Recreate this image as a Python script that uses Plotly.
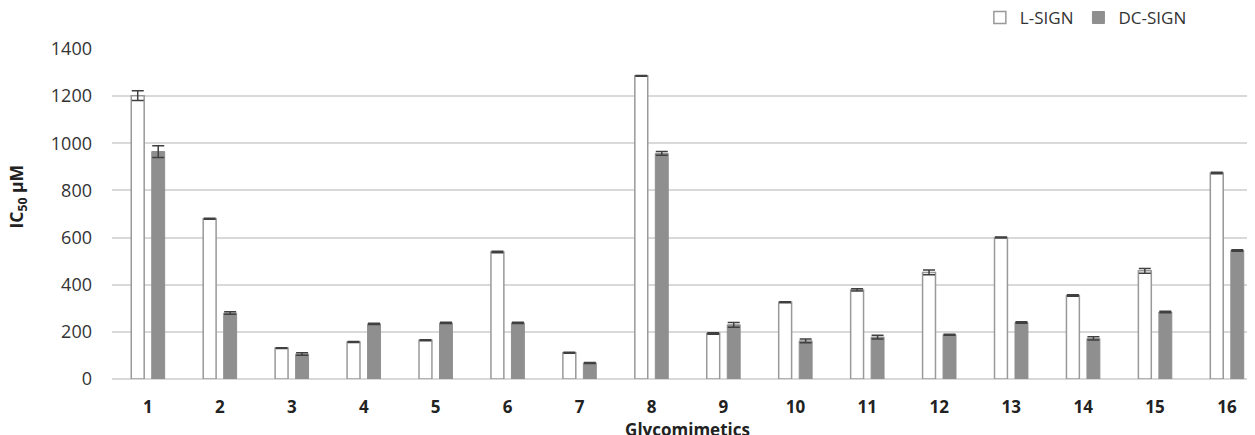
import plotly.graph_objects as go

categories = [str(i) for i in range(1, 17)]
l_sign = [1202, 680, 131, 157, 164, 539, 111, 1286, 193, 326, 378, 452, 600, 354, 459, 874]
l_sign_err = [21, 2, 2, 2, 2, 3, 2, 2, 3, 2, 5, 10, 2, 3, 10, 3]
dc_sign = [965, 280, 106, 234, 238, 238, 68, 957, 230, 162, 178, 188, 240, 172, 284, 545]
dc_sign_err = [25, 5, 5, 3, 3, 3, 2, 8, 10, 8, 8, 2, 3, 7, 3, 3]

font_family = "Open Sans"
text_color = "#333333"

fig = go.Figure()
fig.add_trace(go.Bar(
    name="L-SIGN", x=categories, y=l_sign,
    marker=dict(color="white", line=dict(color="#999999", width=1.5)),
    error_y=dict(type="data", array=l_sign_err, visible=True, color="#404040", thickness=1.5, width=6),
))
fig.add_trace(go.Bar(
    name="DC-SIGN", x=categories, y=dc_sign,
    marker=dict(color="#8f8f8f", line=dict(color="#8f8f8f", width=1)),
    error_y=dict(type="data", array=dc_sign_err, visible=True, color="#404040", thickness=1.5, width=6),
))

fig.update_layout(
    width=1255, height=435,
    margin=dict(l=104, r=0, t=41, b=64, autoexpand=False),
    paper_bgcolor="white", plot_bgcolor="white",
    barmode="group", bargap=0.43, bargroupgap=0.37,
    font=dict(family=font_family, color=text_color, size=14),
    showlegend=True,
    legend=dict(orientation="h", x=0.754, y=1.094, xanchor="left", yanchor="middle",
                itemwidth=30,
                font=dict(size=17, family=font_family, color=text_color),
                bgcolor="rgba(0,0,0,0)"),
    xaxis=dict(
        type="category", range=[-0.5, 15.5],
        showgrid=False, showline=False, zeroline=False,
        tickfont=dict(size=17, family=font_family, color="#222222", weight="bold"),
        ticks="", ticklabelstandoff=16,
        title=dict(text="<b>Glycomimetics</b>", font=dict(size=17, family=font_family, color="#222222"), standoff=0),
    ),
    yaxis=dict(
        range=[0, 1400], dtick=200,
        showgrid=True, gridcolor="#d9d9d9", gridwidth=1.5,
        zeroline=True, zerolinecolor="#d9d9d9", zerolinewidth=1.5,
        showline=False, ticks="", ticklabelstandoff=19,
        tickfont=dict(size=18, family=font_family, color=text_color),
    ),
    annotations=[dict(
        text="<b>IC<sub>50</sub> µM</b>", textangle=-90,
        xref="paper", yref="paper", x=-0.0821, y=0.5515,
        xanchor="center", yanchor="middle", showarrow=False,
        font=dict(size=17.5, family=font_family, color="#222222"),
    )],
)

fig.write_html("out.html")
